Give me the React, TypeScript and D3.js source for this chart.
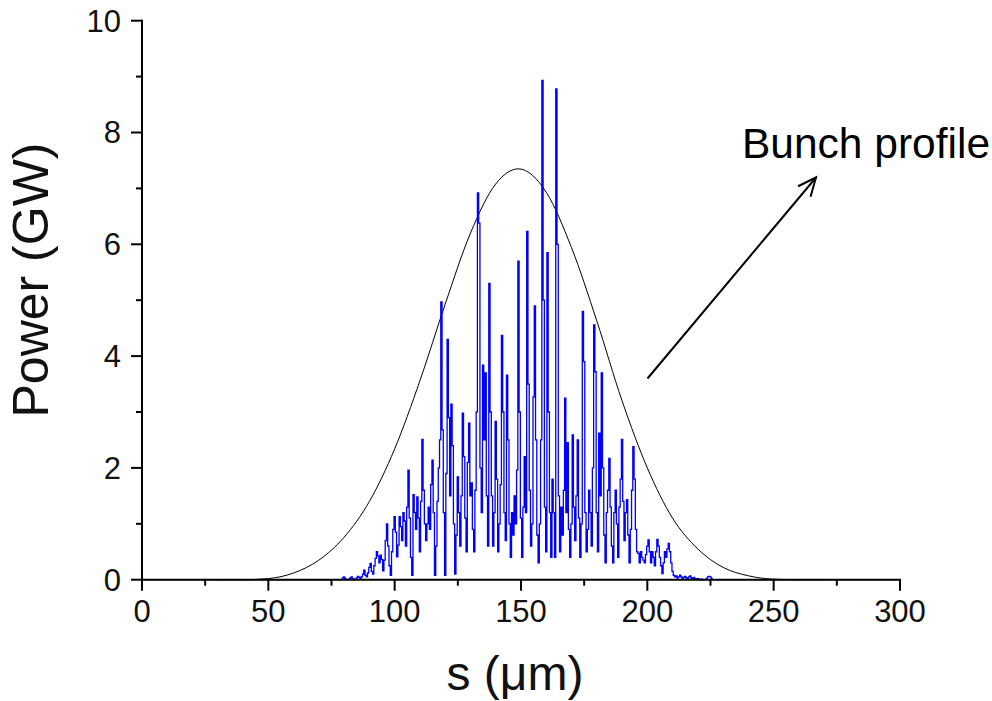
import React from "react";
import * as d3 from "d3";

// ---- data ----
const xTicksMajor = [0, 50, 100, 150, 200, 250, 300];
const xTicksMinor = [25, 75, 125, 175, 225, 275];
const yTicksMajor = [0, 2, 4, 6, 8, 10];
const yTicksMinor = [1, 3, 5, 7, 9];

// FEL power (GW) sampled every 0.5 um starting at s = 78 um
const powerStartS = 78;
const powerStepS = 0.5;
const powerGW = [
  0, 0, 0, 0.03, 0.05, 0.02, 0, 0, 0.01, 0.03,
  0.05, 0.02, 0, 0.01, 0.03, 0.06, 0.04, 0.02, 0.05, 0.1,
  0.17, 0.08, 0.05, 0.12, 0.22, 0.29, 0.15, 0.1, 0.25, 0.38,
  0.5, 0.42, 0.3, 0.44, 0.36, 0.16, 0.35, 0.7, 1.0, 0.6,
  0.25, 0.08, 0.5, 0.9, 1.13, 0.85, 0.41, 0.62, 1.13, 0.95,
  0.7, 1.2, 1.05, 0.6, 1.3, 1.96, 1.1, 0.4, 0.08, 1.52,
  1.2, 0.9, 1.48, 1.1, 0.5, 1.4, 2.51, 1.6, 1.0, 0.7,
  1.0, 1.3, 0.9, 1.7, 2.14, 1.2, 0.08, 0.6, 1.4, 2.0,
  2.5, 4.97, 2.68, 1.2, 0.08, 1.9, 4.3, 2.9, 1.5, 3.14,
  2.4, 1.0, 0.1, 0.8, 1.84, 1.2, 0.6, 1.5, 2.98, 2.2,
  1.1, 0.5, 2.1, 2.8, 1.5, 1.73, 0.9, 0.5, 1.6, 3.0,
  6.92, 6.38, 2.0, 1.2, 3.84, 2.5, 3.7, 1.5, 0.6, 5.3,
  3.0, 1.5, 0.6, 1.2, 2.83, 1.8, 0.5, 1.0, 1.7, 4.37,
  3.0, 1.2, 0.7, 3.66, 2.5, 1.0, 0.4, 1.2, 0.8, 1.5,
  1.0, 1.96, 5.7, 3.0, 1.1, 0.4, 1.3, 2.2, 1.2, 6.23,
  3.5, 1.6, 0.6, 1.0, 3.27, 4.9, 2.5, 0.8, 0.3, 1.0,
  2.5, 8.93, 5.0, 1.3, 0.5, 5.85, 3.0, 1.2, 0.4, 1.8,
  1.2, 0.4, 8.78, 6.0, 1.5, 0.5, 1.3, 0.8, 1.6, 3.25,
  1.2, 2.45, 0.9, 0.4, 1.0, 2.59, 1.3, 0.7, 1.5, 2.5,
  1.1, 0.4, 1.0, 4.8, 3.9, 1.2, 0.5, 0.9, 1.6, 1.2,
  0.6, 2.0, 4.56, 3.72, 1.2, 0.5, 2.62, 1.5, 3.7, 2.0,
  0.8, 0.3, 1.2, 1.6, 2.17, 1.3, 0.6, 0.3, 1.2, 1.6,
  1.0, 0.4, 1.3, 1.8, 2.51, 1.4, 0.7, 1.2, 1.43, 0.8,
  0.3, 0.9, 1.6, 2.38, 1.8, 0.9, 0.5, 0.47, 0.3, 0.5,
  0.4, 0.35, 0.3, 0.45, 0.6, 0.71, 0.5, 0.3, 0.5, 0.4,
  0.25, 0.5, 0.72, 0.6, 0.4, 0.25, 0.11, 0.3, 0.5, 0.4,
  0.55, 0.65, 0.5, 0.3, 0.15, 0.08, 0.05, 0.07, 0.03, 0.05,
  0.08, 0.05, 0.02, 0.04, 0.06, 0.03, 0.02, 0.05, 0.07, 0.03,
  0.02, 0.04, 0.02, 0.01, 0.02, 0.01, 0.0, 0.01, 0.0, 0.0,
  0.0, 0.02, 0.05, 0.06, 0.05, 0.02, 0.0, 0.0, 0.0,
];

// Bunch profile
const profileS = [30, 40, 50, 60, 70, 80, 90, 100, 110, 120, 130, 140, 149, 160, 170, 180, 190, 200, 210, 220, 230, 240, 250, 260, 270];
const profileP = [0, 0, 0.02, 0.12, 0.35, 0.76, 1.4, 2.34, 3.56, 4.93, 6.2, 7.08, 7.35, 6.93, 5.94, 4.63, 3.2, 2.0, 1.1, 0.55, 0.22, 0.07, 0.01, 0, 0];

const annotation = "Bunch profile";
const xTitle = "s (\u03BCm)";
const yTitle = "Power (GW)";

const W = 992;
const H = 701;
const font = "'Liberation Sans', Arial, Helvetica, sans-serif";

export default function App() {
  const x = d3.scaleLinear().domain([0, 300]).range([142, 900]);
  const y = d3.scaleLinear().domain([0, 10]).range([579.7, 20.7]);

  const powerPts: [number, number][] = [[0, 0]];
  powerGW.forEach((v, i) => powerPts.push([powerStartS + i * powerStepS, v]));
  powerPts.push([300, 0]);

  const powerLine = d3
    .line<[number, number]>()
    .x((d) => x(d[0]))
    .y((d) => y(d[1]))
    .curve(d3.curveStep);

  const profLine = d3
    .line<number>()
    .x((_, i) => x(profileS[i]))
    .y((d) => y(d))
    .curve(d3.curveMonotoneX);

  const x0 = x(0);
  const y0 = y(0);

  // arrow
  const ax1 = 647.5, ay1 = 378.5, ax2 = 816, ay2 = 177.5;
  const ang = Math.atan2(ay2 - ay1, ax2 - ax1);
  const hl = 20, ha = 0.42;
  const w1 = [ax2 - hl * Math.cos(ang - ha), ay2 - hl * Math.sin(ang - ha)];
  const w2 = [ax2 - hl * Math.cos(ang + ha), ay2 - hl * Math.sin(ang + ha)];

  return (
    <svg
      width={W}
      height={H}
      style={{ position: "absolute", left: 0, top: 0, background: "#fff" }}
      fontFamily={font}
    >
      <rect width={W} height={H} fill="#fff" />
      {/* bunch profile */}
      <path d={profLine(profileP) || ""} fill="none" stroke="#000" strokeWidth={1} />
      {/* power */}
      <path d={powerLine(powerPts) || ""} fill="none" stroke="#0000ff" strokeWidth={1.3} />

      {/* axes */}
      <line x1={x0} x2={x0} y1={y(10) - 1} y2={y0 + 1} stroke="#000" strokeWidth={2} />
      <line x1={x0 - 1} x2={x(300) + 1} y1={y0} y2={y0} stroke="#000" strokeWidth={2} />
      {yTicksMajor.map((t) => (
        <g key={"ym" + t}>
          <line x1={x0 - 11} x2={x0} y1={y(t)} y2={y(t)} stroke="#000" strokeWidth={2} />
          <text x={121} y={y(t)} dy="0.35em" textAnchor="end" fontSize={31} fill="#111">
            {t}
          </text>
        </g>
      ))}
      {yTicksMinor.map((t) => (
        <line key={"yn" + t} x1={x0 - 6} x2={x0} y1={y(t)} y2={y(t)} stroke="#000" strokeWidth={2} />
      ))}
      {xTicksMajor.map((t) => (
        <g key={"xm" + t}>
          <line x1={x(t)} x2={x(t)} y1={y0} y2={y0 + 11} stroke="#000" strokeWidth={2} />
          <text x={x(t)} y={622} textAnchor="middle" fontSize={31} fill="#111">
            {t}
          </text>
        </g>
      ))}
      {xTicksMinor.map((t) => (
        <line key={"xn" + t} x1={x(t)} x2={x(t)} y1={y0} y2={y0 + 6} stroke="#000" strokeWidth={2} />
      ))}

      {/* titles */}
      <text x={515} y={690} textAnchor="middle" fontSize={48} fill="#111">
        {xTitle}
      </text>
      <text
        transform={`translate(48, 280) rotate(-90)`}
        textAnchor="middle"
        fontSize={50}
        fill="#111"
      >
        {yTitle}
      </text>

      {/* annotation */}
      <text x={742} y={158} fontSize={42.5} fill="#000">
        {annotation}
      </text>
      <line x1={ax1} y1={ay1} x2={ax2} y2={ay2} stroke="#000" strokeWidth={2} />
      <polyline
        points={`${w1[0]},${w1[1]} ${ax2},${ay2} ${w2[0]},${w2[1]}`}
        fill="none"
        stroke="#000"
        strokeWidth={2}
      />
    </svg>
  );
}
